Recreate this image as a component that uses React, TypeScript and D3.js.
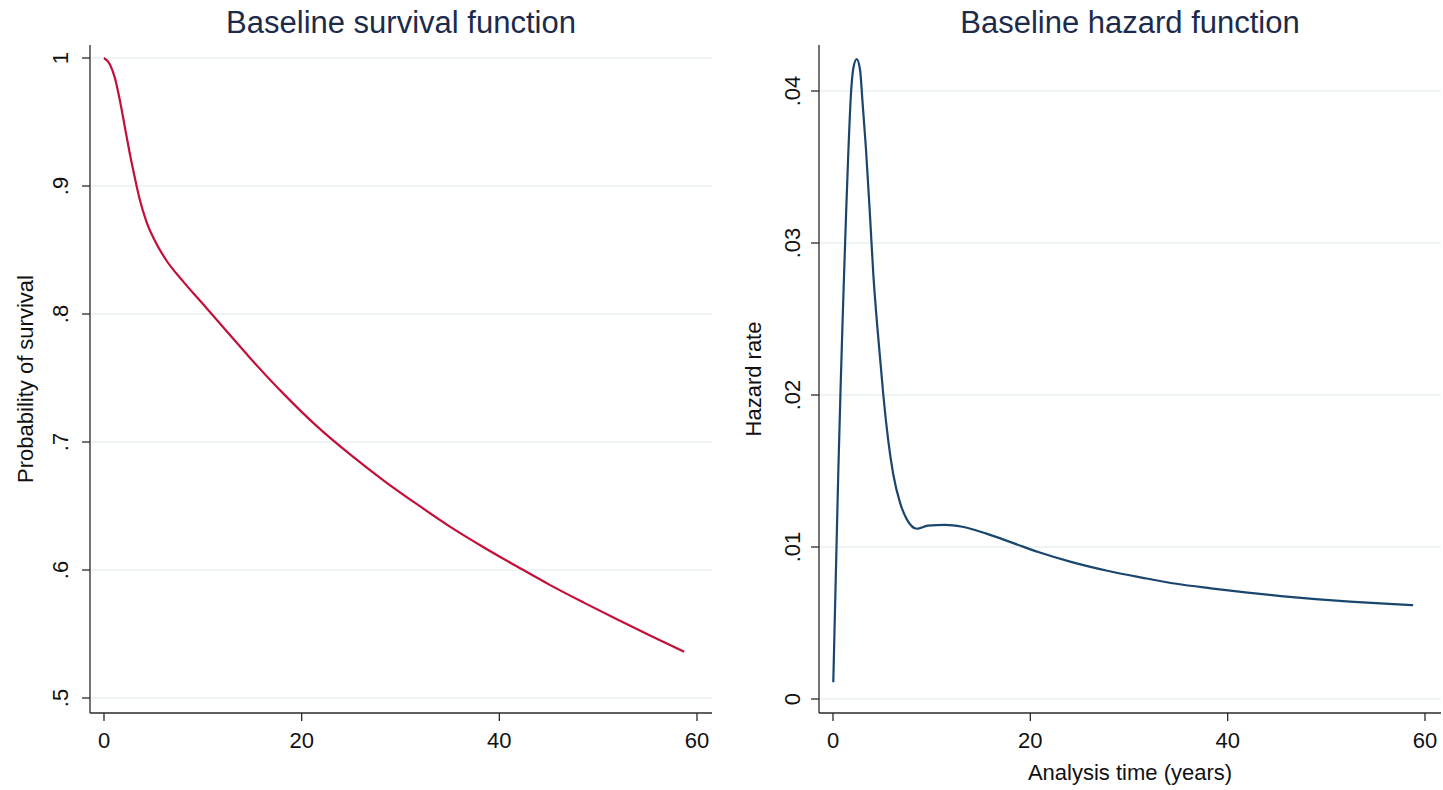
import React from "react";
import * as d3 from "d3";

// Baseline survival S(t) at selected analysis times (years)
const survivalTime = [0.0, 0.6, 1.1, 1.6, 2.1, 2.6, 3.1, 3.6, 4.3, 5.2, 6.3, 8.0, 9.7, 11.4, 12.9, 14.8, 18.2, 21.5, 24.9, 28.3, 31.7, 35.0, 38.4, 41.8, 45.1, 48.5, 51.9, 55.3, 58.7];
const survivalProb = [1.0, 0.995, 0.9845, 0.9672, 0.9465, 0.9258, 0.9072, 0.89, 0.872, 0.8565, 0.842, 0.8255, 0.8105, 0.7955, 0.7822, 0.7655, 0.7374, 0.7126, 0.6903, 0.6699, 0.6512, 0.6339, 0.6178, 0.6027, 0.5884, 0.5747, 0.5615, 0.5487, 0.5362];

// Baseline hazard h(t)
const hazardTime = [0.03, 0.2, 0.37, 0.54, 0.78, 0.95, 1.11, 1.32, 1.55, 1.82, 2.06, 2.4, 2.74, 3.0, 3.34, 3.75, 4.09, 4.49, 4.83, 5.1, 5.6, 6.1, 6.8, 7.5, 8.5, 9.6, 11.35, 13.1, 15.55, 18.35, 20.8, 24.3, 27.8, 31.3, 34.8, 38.3, 41.8, 45.4, 48.9, 52.4, 55.9, 58.8];
const hazardRate = [0.0011, 0.0058, 0.0104, 0.015, 0.0207, 0.0244, 0.0277, 0.0318, 0.0359, 0.0398, 0.0415, 0.0421, 0.0414, 0.0392, 0.0362, 0.0318, 0.0279, 0.0245, 0.022, 0.02, 0.017, 0.0148, 0.0129, 0.0118, 0.0112, 0.0114, 0.01145, 0.01133, 0.01088, 0.01024, 0.00967, 0.00899, 0.00844, 0.00799, 0.00758, 0.00728, 0.00701, 0.00677, 0.00657, 0.00641, 0.00627, 0.00617];

const xTicks = [0, 20, 40, 60];
const survivalTicks = [0.5, 0.6, 0.7, 0.8, 0.9, 1];
const survivalTickLabels = [".5", ".6", ".7", ".8", ".9", "1"];
const hazardTicks = [0, 0.01, 0.02, 0.03, 0.04];
const hazardTickLabels = ["0", ".01", ".02", ".03", ".04"];

const FONT = "'Liberation Sans', Arial, sans-serif";
const TITLE_COLOR = "#1c2b4b";
const GRID = "#e9f0f2";
const AXIS = "#2a2a2a";

type PanelProps = {
  title: string;
  yTitle: string;
  xTitle?: string;
  xs: number[];
  ys: number[];
  yTicks: number[];
  yTickLabels: string[];
  yDomain: [number, number];
  yRange: [number, number];
  xRange: [number, number];
  left: number;
  right: number;
  top: number;
  bottom: number;
  color: string;
  yTitleX: number;
  yLabelX: number;
};

function Panel(p: PanelProps) {
  const x = d3.scaleLinear().domain([0, 60]).range(p.xRange);
  const y = d3.scaleLinear().domain(p.yDomain).range(p.yRange);
  const pts = p.xs.map((t, i) => [t, p.ys[i]] as [number, number]);
  const line = d3
    .line<[number, number]>()
    .x((d) => x(d[0]))
    .y((d) => y(d[1]))
    .curve(d3.curveMonotoneX);
  const cx = (p.left + p.right) / 2;
  const cy = (p.top + p.bottom) / 2;
  return (
    <g fontFamily={FONT}>
      <text x={(p.left + p.right) / 2} y={33} textAnchor="middle" fontSize={31} fill={TITLE_COLOR}>
        {p.title}
      </text>
      {p.yTicks.map((v) => (
        <line key={"g" + v} x1={p.left} x2={p.right} y1={y(v)} y2={y(v)} stroke={GRID} strokeWidth={1.6} />
      ))}
      <path d={line(pts) ?? ""} fill="none" stroke={p.color} strokeWidth={2.2} strokeLinejoin="round" />
      <line x1={p.left} x2={p.left} y1={p.top} y2={p.bottom} stroke={AXIS} strokeWidth={1.3} />
      <line x1={p.left} x2={p.right} y1={p.bottom} y2={p.bottom} stroke={AXIS} strokeWidth={1.3} />
      {p.yTicks.map((v, i) => (
        <g key={"y" + v}>
          <line x1={p.left - 8} x2={p.left} y1={y(v)} y2={y(v)} stroke={AXIS} strokeWidth={1.3} />
          <text
            transform={`translate(${p.yLabelX},${y(v)}) rotate(-90)`}
            textAnchor="middle"
            fontSize={22}
            fill="#111"
          >
            {p.yTickLabels[i]}
          </text>
        </g>
      ))}
      {xTicks.map((v) => (
        <g key={"x" + v}>
          <line x1={x(v)} x2={x(v)} y1={p.bottom} y2={p.bottom + 8} stroke={AXIS} strokeWidth={1.3} />
          <text x={x(v)} y={748} textAnchor="middle" fontSize={22} fill="#111">
            {v}
          </text>
        </g>
      ))}
      <text transform={`translate(${p.yTitleX},${cy}) rotate(-90)`} textAnchor="middle" fontSize={22} fill="#111">
        {p.yTitle}
      </text>
      {p.xTitle && (
        <text x={cx} y={780} textAnchor="middle" fontSize={22} fill="#111">
          {p.xTitle}
        </text>
      )}
    </g>
  );
}

export default function App() {
  return (
    <div style={{ position: "absolute", left: 0, top: 0 }}>
      <svg width={1443} height={790} style={{ display: "block", background: "#fff" }}>
        <rect width={1443} height={790} fill="#fff" />
        <Panel
          title="Baseline survival function"
          yTitle="Probability of survival"
          xs={survivalTime}
          ys={survivalProb}
          yTicks={survivalTicks}
          yTickLabels={survivalTickLabels}
          yDomain={[0.5, 1]}
          yRange={[698, 58]}
          xRange={[104, 697]}
          left={90}
          right={712}
          top={45}
          bottom={713}
          color="#c40f3a"
          yTitleX={33}
          yLabelX={68}
        />
        <Panel
          title="Baseline hazard function"
          yTitle="Hazard rate"
          xTitle="Analysis time (years)"
          xs={hazardTime}
          ys={hazardRate}
          yTicks={hazardTicks}
          yTickLabels={hazardTickLabels}
          yDomain={[0, 0.04]}
          yRange={[699, 91]}
          xRange={[833, 1425]}
          left={819}
          right={1441}
          top={45}
          bottom={713}
          color="#1a466e"
          yTitleX={761}
          yLabelX={800}
        />
      </svg>
    </div>
  );
}
